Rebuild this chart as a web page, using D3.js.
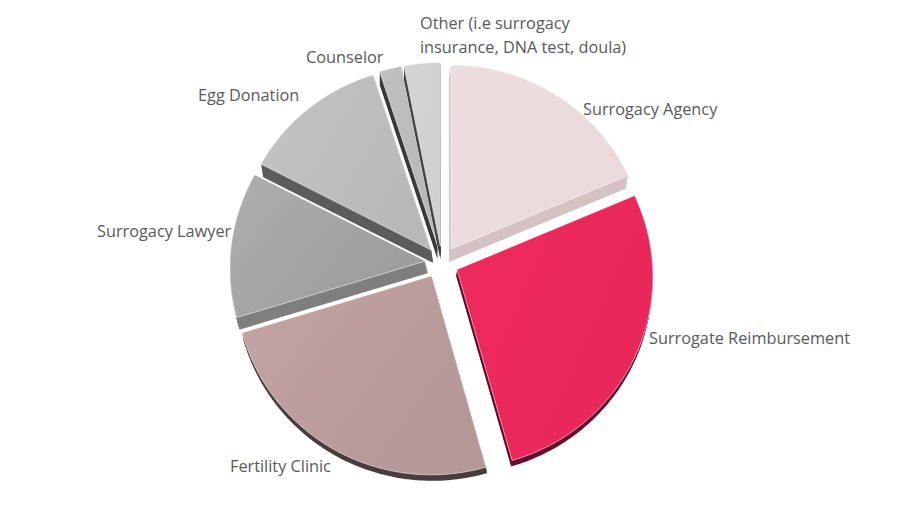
<!DOCTYPE html>
<html><head><meta charset="utf-8">
<script src="https://cdn.jsdelivr.net/npm/d3@7"></script>
<style>html,body{margin:0;background:#fff}svg{display:block}text{font-family:"Open Sans",sans-serif;font-size:16.3px;fill:#595959}</style>
</head><body><svg id="c" width="900" height="506"></svg>
<script>
const categories = ["Surrogacy Agency","Surrogate Reimbursement","Fertility Clinic","Surrogacy Lawyer","Egg Donation","Counselor","Other"];
const values = [18.6,27,24.6,12.3,12.4,1.9,3.1];
const topColorsA = ["#eedddd","#ee2a5e","#c4a3a4","#aeaeae","#c4c4c4","#c0c0c0","#d4d4d4"];
const topColorsB = ["#ebdadb","#e9275b","#b59798","#9c9c9c","#b8b8b8","#b8b8b8","#d0d0d0"];
const sideColors = ["#d5c3c4","#6d0b2c","#4b3d3e","#7f7f7f","#5c5c5c","#3a3a3a","#444444"];
const depthX = [-2,-1,1,3,2,0,0];
const depthY = [13,6,6,12,13,13,13];
const nudgeX = [0,0,-2.5,0,0,0,0];
const nudgeY = [0,0,-1,0,0,0,0];
const labelLines = [["Surrogacy Agency"],["Surrogate Reimbursement"],["Fertility Clinic"],["Surrogacy Lawyer"],["Egg Donation"],["Counselor"],["Other (i.e surrogacy","insurance, DNA test, doula)"]];
const labelX = [583,649,230,97,198,306,420];
const labelY = [115,344,472,237,101,63,29];

const cx=442, cy=262.5, Rx=195.5, Ry=191.5, persp=0.034, burst=0.085;
const svg=d3.select("#c"), defs=svg.append("defs");
const project=(x,y)=>{const w=1+persp*y;return [cx+Rx*x*w, cy+Ry*y*w];};
const arcs=d3.pie().sort(null).value(d=>d)(values);
const line=d3.line().curve(d3.curveLinear);

arcs.forEach((a,i)=>{
  const g=defs.append("linearGradient").attr("id","g"+i).attr("x1","0").attr("y1","0").attr("x2","1").attr("y2","0.6");
  g.append("stop").attr("offset","0").attr("stop-color",topColorsA[i]);
  g.append("stop").attr("offset","1").attr("stop-color",topColorsB[i]);
});
const face=a=>{
  const mid=(a.startAngle+a.endAngle)/2, ox=burst*Math.sin(mid), oy=-burst*Math.cos(mid);
  const n=Math.max(4,Math.ceil((a.endAngle-a.startAngle)*60));
  const pts=[project(ox,oy)];
  d3.range(n+1).forEach(k=>{const t=a.startAngle+(a.endAngle-a.startAngle)*k/n;pts.push(project(ox+Math.sin(t),oy-Math.cos(t)));});
  return pts;
};
const order=[5,6,4,0,3,1,2];
order.forEach(i=>{
  const a=arcs[i], pts=face(a), g=svg.append("g").attr("transform",`translate(${nudgeX[i]},${nudgeY[i]})`);
  const steps=Math.max(Math.abs(depthY[i]),1);
  d3.range(steps,0,-1).forEach(s=>{
    g.append("path").attr("d",line(pts)+"Z")
     .attr("transform",`translate(${depthX[i]*s/steps},${depthY[i]*s/steps})`)
     .attr("fill",sideColors[i]);
  });
  g.append("path").attr("d",line(pts)+"Z").attr("fill",`url(#g${i})`)
   .attr("stroke","#fff").attr("stroke-opacity",0.55).attr("stroke-width",1);
});
categories.forEach((c,i)=>{
  const t=svg.append("text").attr("x",labelX[i]).attr("y",labelY[i]);
  labelLines[i].forEach((s,k)=>t.append("tspan").attr("x",labelX[i]).attr("dy",k?24:0).text(s));
});
</script></body></html>
